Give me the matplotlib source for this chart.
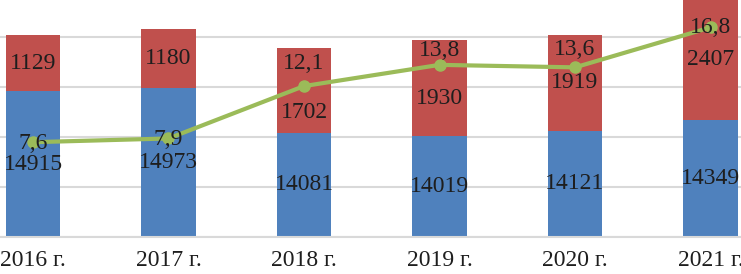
import matplotlib.pyplot as plt
import numpy as np

plt.rcParams['font.family'] = ['Liberation Serif', 'DejaVu Serif']

annees = ["2016 г.", "2017 г.", "2018 г.", "2019 г.", "2020 г.", "2021 г."]
valeurs_bleu = [14915, 14973, 14081, 14019, 14121, 14349]
valeurs_rouge = [1129, 1180, 1702, 1930, 1919, 2407]
valeurs_ligne = [7.6, 7.9, 12.1, 13.8, 13.6, 16.8]

# decalages des etiquettes (en points)
decalage_rouge = [0, 0, -16, -8, 0, 0]
decalage_ligne = [-1, -1, 16, 10, 13, 0]

couleur_bleu = "#4F81BD"
couleur_rouge = "#C0504D"
couleur_ligne = "#9BBB59"
couleur_texte = "#1E1E1E"
taille = 17

fig = plt.figure(figsize=(7.41, 2.74), dpi=100)
ax = fig.add_axes([0, 37 / 274, 1, 237 / 274])
ax2 = ax.twinx()

x = np.arange(len(annees))
largeur = 0.4

ax.bar(x, valeurs_bleu, largeur, color=couleur_bleu, zorder=2)
ax.bar(x, valeurs_rouge, largeur, bottom=valeurs_bleu, color=couleur_rouge, zorder=2)

for i in range(len(annees)):
    ax.annotate(str(valeurs_bleu[i]), (x[i], (12000 + valeurs_bleu[i]) / 2),
                ha="center", va="center", fontsize=taille, color=couleur_texte, zorder=5)
    ax.annotate(str(valeurs_rouge[i]), (x[i], valeurs_bleu[i] + valeurs_rouge[i] / 2),
                xytext=(0, decalage_rouge[i]), textcoords="offset points",
                ha="center", va="center", fontsize=taille, color=couleur_texte, zorder=5)

ax.set_ylim(12000, 16740)
ax.set_xlim(-0.2435, 5.225)
ax.set_yticks([12000, 13000, 14000, 15000, 16000])
ax.yaxis.grid(True, color="#D9D9D9", linewidth=1.5, zorder=0)
ax.set_axisbelow(True)
ax.tick_params(axis="y", left=False, labelleft=False)
ax.tick_params(axis="x", length=0, pad=9, labelsize=taille, labelcolor=couleur_texte)
ax.set_xticks(x)
ax.set_xticklabels(annees)
for cote in ["top", "right", "left"]:
    ax.spines[cote].set_visible(False)
ax.spines["bottom"].set_color("#D9D9D9")
ax.spines["bottom"].set_linewidth(1.5)

ax2.plot(x, valeurs_ligne, color=couleur_ligne, linewidth=3, marker="o",
         markersize=8, zorder=3)
for i in range(len(annees)):
    ax2.annotate(f"{valeurs_ligne[i]:.1f}".replace(".", ","), (x[i], valeurs_ligne[i]),
                 xytext=(0, decalage_ligne[i]), textcoords="offset points",
                 ha="center", va="center", fontsize=taille, color=couleur_texte, zorder=6)
ax2.set_ylim(0, 19.0)
ax2.axis("off")

fig.savefig("out.png", dpi=100)
